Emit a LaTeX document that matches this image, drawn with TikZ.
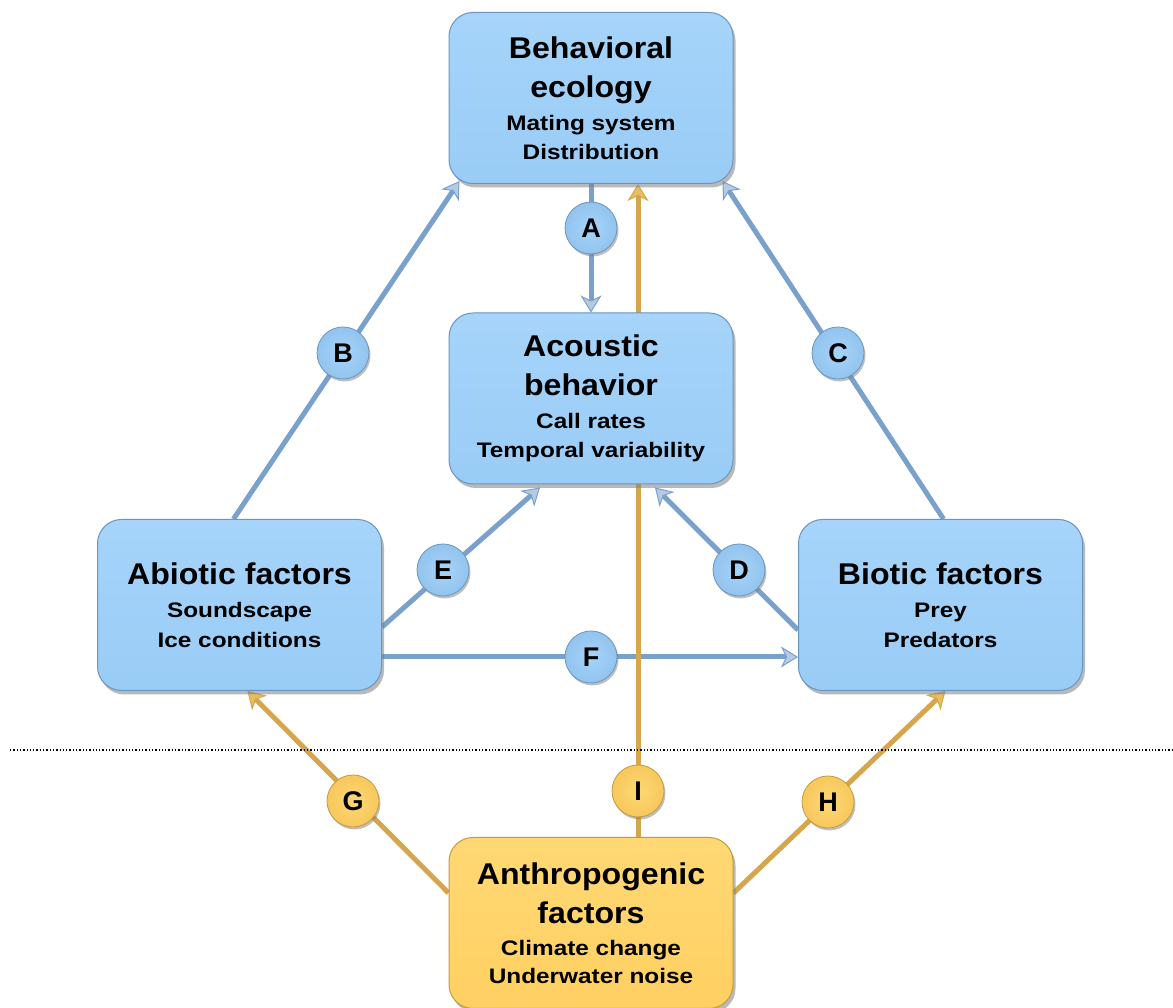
\documentclass[tikz,border=0pt]{standalone}
\usepackage{fontspec}
\setmainfont{Liberation Sans}
\newfontfamily\titfam[FakeStretch=1.07]{Liberation Sans}
\newfontfamily\subfam[FakeStretch=1.16]{Liberation Sans}
\usetikzlibrary{arrows.meta,shadows,calc}
\pgfdeclarelayer{bg}
\pgfdeclarelayer{paper}
\pgfsetlayers{paper,bg,main}
\definecolor{boxblue}{HTML}{99CCF6}
\definecolor{boxblueT}{HTML}{A6D4FA}
\definecolor{boxedge}{HTML}{6A95C0}
\definecolor{boxgold}{HTML}{FFD062}
\definecolor{boxgoldT}{HTML}{FFD874}
\definecolor{goldedge}{HTML}{C49A3E}
\definecolor{lineblue}{HTML}{7AA1CC}
\definecolor{linegold}{HTML}{D5A64C}
\newcommand\subl[1]{{\subfam\bfseries\fontsize{21}{29}\selectfont #1}}
\tikzset{
  box/.style={rounded corners=24pt, minimum width=284pt, minimum height=171pt,
    draw=boxedge, line width=1pt, top color=boxblueT, bottom color=boxblue,
    align=center, inner sep=0pt,
    font=\titfam\bfseries\fontsize{30}{39}\selectfont,
    drop shadow={shadow xshift=2.5pt, shadow yshift=-4pt, opacity=.55}},
  goldbox/.style={box, draw=goldedge, top color=boxgoldT, bottom color=boxgold},
  circ/.style={circle, minimum size=52pt, inner sep=0pt, draw=boxedge, line width=.8pt,
    inner color=boxblueT, outer color=boxblue!85!boxedge,
    font=\bfseries\fontsize{27}{27}\selectfont,
    drop shadow={shadow xshift=1.5pt, shadow yshift=-2.5pt, opacity=.5}},
  goldcirc/.style={circ, draw=goldedge, inner color=boxgoldT, outer color=boxgold!85!goldedge},
  bluearr/.style={draw=lineblue, line width=5pt,
    -{Stealth[length=17pt,width=21pt,inset=5pt,line width=1pt,fill=lineblue!55!white]}},
  goldarr/.style={draw=linegold, line width=5pt,
    -{Stealth[length=17pt,width=21pt,inset=5pt,line width=1pt,fill=linegold!55!boxgoldT]}},
}
\begin{document}
\begin{tikzpicture}[x=1pt,y=1pt]
\begin{pgfonlayer}{paper}
\fill[white] (0,0) rectangle (1173,1008);
\end{pgfonlayer}
\useasboundingbox (0,0) rectangle (1173,1008);
% boxes
\node[box] (beh) at (591,910) {Behavioral\\ecology\\[-6pt]\subl{Mating system}\\[-10pt]\subl{Distribution}};
\node[box] (aco) at (591,609.5) {Acoustic\\behavior\\[-6pt]\subl{Call rates}\\[-10pt]\subl{Temporal variability}};
\node[box] (abi) at (239.5,403) {Abiotic factors\\[-6pt]\subl{Soundscape}\\[-9pt]\subl{Ice conditions}};
\node[box] (bio) at (940.5,403) {Biotic factors\\[-6pt]\subl{Prey}\\[-9pt]\subl{Predators}};
\node[goldbox] (ant) at (591,85) {Anthropogenic\\factors\\[-7pt]\subl{Climate change}\\[-11pt]\subl{Underwater noise}};
% dotted separator
\coordinate (sepL) at (10,258);
\coordinate (sepR) at (1173,258);
\draw[dotted, line width=1.3pt] (sepL) -- (sepR);
% connectors
\begin{pgfonlayer}{bg}
\draw[bluearr] (beh.south) -- (aco.north);
\draw[bluearr] ($(abi.north)+(-6,0)$) -- ($(beh.south west)+(11,3)$);
\draw[bluearr] ($(bio.north)+(3,0)$) -- ($(beh.south east)+(-11,3)$);
\draw[bluearr] ($(bio.west)+(0,-25)$) -- ($(aco.south)+(64,-3)$);
\draw[bluearr] ($(abi.east)+(0,-22)$) -- ($(aco.south)+(-51,-3)$);
\draw[bluearr] ($(abi.east)+(0,-52)$) -- ($(bio.west)+(0,-52)$);
\draw[goldarr] ($(ant.north)+(47,0)$) -- ($(beh.south)+(47,0)$);
\draw[goldarr] ($(ant.west)+(0,30)$) -- ($(abi.south)+(8,0)$);
\draw[goldarr] ($(ant.east)+(0,30)$) -- ($(bio.south)+(5,0)$);
\end{pgfonlayer}
% circles
\node[circ] (cA) at (591,780) {A};
\node[circ] (cB) at (343,655) {B};
\node[circ] (cC) at (838,655) {C};
\node[circ] (cD) at (739,438) {D};
\node[circ] (cE) at (443,438) {E};
\node[circ] (cF) at (591,351) {F};
\node[goldcirc] (cG) at (353,207) {G};
\node[goldcirc] (cH) at (828,206) {H};
\node[goldcirc] (cI) at (638,217) {I};
\end{tikzpicture}
\end{document}
